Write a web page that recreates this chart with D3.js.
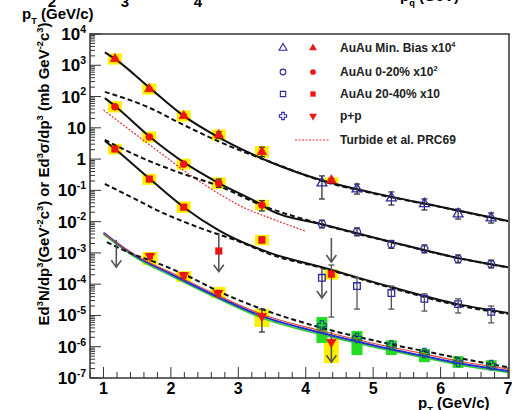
<!DOCTYPE html>
<html>
<head>
<meta charset="utf-8">
<script src="https://cdn.jsdelivr.net/npm/d3@7"></script>
<style>
    body { margin: 0; background: #fff; }
    svg { display: block; font-family: "Liberation Sans", Arial, sans-serif; font-weight: bold; }
</style>
</head>
<body>
<div id="chart"></div>
<script>
// axis ticks
const X_TICKS = [1, 2, 3, 4, 5, 6, 7];
const Y_TICKS = [1e4, 1e3, 1e2, 10, 1, 1e-1, 1e-2, 1e-3, 1e-4, 1e-5, 1e-6, 1e-7];
const Y_TICK_BASE = ["10", "10", "10", "10", "1", "10", "10", "10", "10", "10", "10", "10"];
const Y_TICK_EXP = ["4", "3", "2", "", "", "-1", "-2", "-3", "-4", "-5", "-6", "-7"];

// PHENIX-like data points (red = virtual photon, blue = real photon)
const mbRedX = [1.17, 1.68, 2.19, 2.71, 3.35, 4.38];
const mbRedY = [1.6e3, 174, 24, 5.9, 1.7, 0.21];
const mbRedErr = [[1.45e3, 1.75e3], [162, 188], [21.5, 27], [4.6, 7.4], [1.2, 2.4], [0.18, 0.24]];
const mbRedSys = [[1.05e3, 2.4e3], [115, 260], [16, 36], [3.9, 8.8], [1.1, 2.6], [0.17, 0.26]];

const c020RedX = [1.17, 1.68, 2.19, 2.71, 3.35];
const c020RedY = [47, 5.1, 0.69, 0.17, 0.034];
const c020RedErr = [[42, 53], [4.6, 5.7], [0.6, 0.8], [0.125, 0.23], [0.022, 0.047]];
const c020RedSys = [[31, 71], [3.4, 7.7], [0.46, 1.03], [0.11, 0.26], [0.023, 0.05]];

const c2040RedX = [1.17, 1.68, 2.19, 3.35, 4.38];
const c2040RedY = [2.1, 0.23, 0.029, 2.6e-3, 2.1e-4];
const c2040RedErr = [[1.9, 2.3], [0.21, 0.26], [0.025, 0.034], [2.1e-3, 3.2e-3], [8.9e-6, 4.1e-4]];
const c2040RedSys = [[1.4, 3.1], [0.15, 0.34], [0.019, 0.044], [1.75e-3, 3.8e-3], [1.4e-4, 3.0e-4]];
const c2040LimitX = [2.71];
const c2040LimitY = [1.15e-3];

const ppRedX = [1.69, 2.19, 2.7, 3.35, 4.38];
const ppRedY = [7.9e-4, 1.9e-4, 5.2e-5, 9.5e-6, 1.4e-6];
const ppRedErr = [[6.6e-4, 9.5e-4], [1.6e-4, 2.3e-4], [4.3e-5, 6.2e-5], [2.95e-6, 1.6e-5], null];
const ppRedSys = [[4.1e-4, 1.07e-3], [1.17e-4, 2.6e-4], [3.6e-5, 8.1e-5], [4.3e-6, 1.6e-5], [3.0e-7, 1.8e-6]];

const blueX = [4.24, 4.76, 5.27, 5.76, 6.26, 6.75];
const mbBlueY = [0.172, 0.110, 0.057, 0.037, 0.0175, 0.0131];
const mbBlueErr = [[0.053, 0.29], [0.076, 0.159], [0.034, 0.089], [0.0236, 0.053], [0.0121, 0.0253], [0.009, 0.0189]];
const c020BlueY = [8.4e-3, 4.7e-3, 1.9e-3, 1.33e-3, 6.4e-4, 4.4e-4];
const c020BlueErr = [[6.3e-3, 1.12e-2], [3.5e-3, 6.3e-3], [1.4e-3, 2.5e-3], [1.0e-3, 1.8e-3], [4.8e-4, 8.6e-4], [3.3e-4, 5.9e-4]];
const c2040BlueY = [1.6e-4, 8.7e-5, 5.2e-5, 3.4e-5, 2.3e-5, 1.3e-5];
const c2040BlueErr = [null, [1.6e-5, 1.6e-4], [1.6e-5, 8.7e-5], [1.38e-5, 4.9e-5], [1.2e-5, 3.4e-5], [5.8e-6, 2.0e-5]];
const ppBlueY = [4.9e-6, 1.9e-6, 1.12e-6, 6.3e-7, 3.2e-7, 2.6e-7];
const ppBlueSys = [[1.32e-6, 8.9e-6], [5.4e-7, 3.2e-6], [5.4e-7, 1.6e-6], [3.2e-7, 8.5e-7], [2.1e-7, 5.0e-7], [1.95e-7, 3.7e-7]];

// upper limit arrows: [pT, top, bottom]
const limitArrows = [
    [1.19, 2.6e-3, 3.5e-4],
    [2.71, 4.4e-3, 2.5e-4],
    [4.24, 3.3e-4, 3.6e-5],
    [4.38, 3.0e-3, 5.1e-4],
    [4.38, 2.95e-6, 3.2e-7]
];

// fit and theory curves [pT, value]
const fitMB = [[1.02, 2.6e3], [1.17, 1.6e3], [1.69, 186], [2.19, 24], [2.67, 5.5], [3.47, 0.81], [4.24, 0.21], [5.0, 0.083], [6.01, 0.0295], [7.0, 0.0105]];
const pqcdMB = [[1.02, 141], [1.65, 47], [2.19, 12.3], [2.73, 3.5], [3.62, 0.62], [4.24, 0.2], [5.0, 0.08], [6.01, 0.029], [7.0, 0.0102]];
const fit020 = [[1.02, 89], [1.17, 50], [1.69, 5.1], [2.21, 0.74], [2.71, 0.17], [3.35, 0.034], [3.47, 0.0234], [4.24, 8.3e-3], [5.27, 2.24e-3], [6.26, 6.9e-4], [7.0, 3.5e-4]];
const pqcd020 = [[1.02, 4.1], [1.54, 1.17], [2.14, 0.36], [2.71, 0.138], [3.35, 0.033], [4.24, 8.2e-3], [5.27, 2.2e-3], [6.26, 6.8e-4], [7.0, 3.45e-4]];
const fit2040 = [[1.02, 3.8], [1.17, 2.1], [1.69, 0.23], [2.19, 0.029], [2.73, 5.0e-3], [3.47, 1.0e-3], [4.24, 3.5e-4], [5.27, 8.1e-5], [6.26, 2.3e-5], [7.0, 1.2e-5]];
const pqcd2040 = [[1.02, 0.16], [1.5, 0.049], [1.79, 0.0235], [2.43, 6.3e-3], [3.03, 2.24e-3], [3.47, 9.1e-4], [4.24, 3.3e-4], [5.27, 7.6e-5], [6.26, 2.1e-5], [7.0, 1.12e-5]];
const turbide = [[1.0, 37], [1.69, 2.8], [2.4, 0.21], [3.17, 0.023], [3.47, 0.013], [3.99, 5.0e-3]];
const ppBlueLine = [[1.0, 4.4e-3], [1.5, 7.4e-4], [2.0, 2.1e-4], [2.73, 3.6e-5], [3.35, 9.5e-6], [4.24, 2.75e-6], [5.0, 1.12e-6], [5.76, 5.0e-7], [6.26, 3.0e-7], [7.0, 1.66e-7]];
const ppRedLine = [[1.0, 4.2e-3], [1.5, 7.9e-4], [2.0, 2.35e-4], [2.73, 4.1e-5], [3.35, 1.1e-5], [4.24, 3.2e-6], [5.0, 1.3e-6], [5.76, 5.9e-7], [6.26, 3.5e-7], [7.0, 1.95e-7]];
const ppGreenLine = [[1.0, 3.9e-3], [1.5, 6.6e-4], [2.0, 1.85e-4], [2.73, 3.2e-5], [3.35, 8.3e-6], [4.24, 2.4e-6], [5.0, 9.8e-7], [5.76, 4.4e-7], [6.26, 2.65e-7], [7.0, 1.5e-7]];
const ppDashed = [[1.05, 2.2e-3], [1.39, 1.0e-3], [1.76, 5.1e-4], [2.28, 1.7e-4], [2.73, 5.6e-5], [3.35, 1.6e-5], [4.24, 4.0e-6], [5.0, 1.6e-6], [5.76, 7.2e-7], [7.0, 2.2e-7]];

const LEGEND_LABELS = [
    [["AuAu Min. Bias x10", ""], ["4", "sup"]],
    [["AuAu 0-20% x10", ""], ["2", "sup"]],
    [["AuAu 20-40% x10", ""]],
    [["p+p", ""]],
    [["Turbide et al. PRC69", ""]]
];

const RED = "#ee1515";
const BLUE = "#2b2b9c";
const YELLOW = "#fff000";
const GREEN = "#22dd22";
const GREY = "#555";

const width = 512, height = 410;
const svg = d3.select("#chart").append("svg")
    .attr("width", width)
    .attr("height", height);

const xScale = d3.scaleLinear().domain([0.8, 7]).range([90, 508]);
const yScale = d3.scaleLog().domain([1e-7, 1e4]).range([378, 34]);

function addRich(textSel, parts, fs) {
    let shift = 0;
    parts.forEach(([t, kind]) => {
        const target = kind === "sup" ? -fs * 0.42 : kind === "sub" ? fs * 0.3 : 0;
        textSel.append("tspan")
            .attr("dy", target - shift)
            .style("font-size", (kind ? fs * 0.62 : fs) + "px")
            .text(t);
        shift = target;
    });
}

// leftovers of the panel above (cut off)
[["2", 52], ["3", 125], ["4", 198]].forEach(([t, xp]) => {
    svg.append("text").attr("x", xp).attr("y", 7).attr("text-anchor", "middle")
        .style("font-size", "15px").text(t);
});
addRich(svg.append("text").attr("x", 22).attr("y", 19).style("font-size", "15px"),
    [["p", ""], ["T", "sub"], [" (GeV/c)", ""]], 15);
addRich(svg.append("text").attr("x", 400).attr("y", 1).style("font-size", "15px"),
    [["p", ""], ["q", "sub"], [" (GeV)", ""]], 15);

// systematic boxes
function sysBoxes(xs, sys, color, hw) {
    svg.append("g").selectAll("rect")
        .data(xs.map((d, i) => ({ x: d, s: sys[i] })))
        .enter().append("rect")
        .attr("x", d => xScale(d.x) - hw)
        .attr("width", hw * 2)
        .attr("y", d => yScale(d.s[1]))
        .attr("height", d => yScale(d.s[0]) - yScale(d.s[1]))
        .attr("fill", color);
}

sysBoxes(mbRedX, mbRedSys, YELLOW, 7);
sysBoxes(c020RedX, c020RedSys, YELLOW, 7);
sysBoxes(c2040RedX, c2040RedSys, YELLOW, 7);
sysBoxes(ppRedX, ppRedSys, YELLOW, 7.5);
sysBoxes(blueX, ppBlueSys, GREEN, 5.5);

// curves
const lineGen = d3.line()
    .x(d => xScale(d[0]))
    .y(d => yScale(d[1]))
    .curve(d3.curveMonotoneX);

function curve(data, color, w, dash) {
    svg.append("path")
        .datum(data)
        .attr("fill", "none")
        .attr("stroke", color)
        .attr("stroke-width", w)
        .attr("stroke-dasharray", dash)
        .attr("d", lineGen);
}

curve(turbide, "#e0303a", 1.2, "2,1.5");
curve(ppGreenLine, "#33cc33", 1.5, null);
curve(ppBlueLine, "#1f2fd0", 2, null);
curve(ppRedLine, "#e8402e", 1.1, null);
curve(ppDashed, "#111", 2, "5,3");
curve(pqcdMB, "#111", 2, "5,3");
curve(pqcd020, "#111", 2, "5,3");
curve(pqcd2040, "#111", 2, "5,3");
curve(fitMB, "#111", 2, null);
curve(fit020, "#111", 2, null);
curve(fit2040, "#111", 2, null);

// error bars
function errorBars(xs, errs, color) {
    const g = svg.append("g").attr("stroke", color).attr("stroke-width", 1.3);
    xs.forEach((xv, i) => {
        const e = errs[i];
        if (!e) return;
        const px = xScale(xv);
        g.append("line").attr("x1", px).attr("x2", px).attr("y1", yScale(e[0])).attr("y2", yScale(e[1]));
        g.append("line").attr("x1", px - 3).attr("x2", px + 3).attr("y1", yScale(e[0])).attr("y2", yScale(e[0]));
        g.append("line").attr("x1", px - 3).attr("x2", px + 3).attr("y1", yScale(e[1])).attr("y2", yScale(e[1]));
    });
}

errorBars(mbRedX, mbRedErr, "#333");
errorBars(c020RedX, c020RedErr, "#333");
errorBars(c2040RedX, c2040RedErr, GREY);
errorBars(ppRedX, ppRedErr, "#333");
errorBars(blueX, mbBlueErr, "#333");
errorBars(blueX, c020BlueErr, "#333");
errorBars(blueX, c2040BlueErr, GREY);

// upper limit arrows
const arrowG = svg.append("g").attr("stroke", GREY).attr("stroke-width", 1.6).attr("fill", "none");
limitArrows.forEach(([xv, top, bottom]) => {
    const px = xScale(xv);
    const y1 = yScale(top), y2 = yScale(bottom);
    arrowG.append("line").attr("x1", px).attr("x2", px).attr("y1", y1).attr("y2", y2);
    arrowG.append("path").attr("d", `M${px - 5},${y2 - 7}L${px},${y2}L${px + 5},${y2 - 7}`);
});

// markers
const triUp = d3.symbol().type(d3.symbolTriangle).size(42)();
const circ = d3.symbol().type(d3.symbolCircle).size(40)();
const sq = d3.symbol().type(d3.symbolSquare).size(44)();
const crossOpen = "M-1.6,-4.5L1.6,-4.5L1.6,-1.6L4.5,-1.6L4.5,1.6L1.6,1.6L1.6,4.5L-1.6,4.5L-1.6,1.6L-4.5,1.6L-4.5,-1.6L-1.6,-1.6Z";

function markers(xs, ys, path, filled, color, rot) {
    svg.append("g").selectAll("path")
        .data(xs.map((d, i) => [d, ys[i]]))
        .enter().append("path")
        .attr("d", path)
        .attr("transform", d => `translate(${xScale(d[0])},${yScale(d[1])})` + (rot ? " rotate(180)" : ""))
        .attr("fill", filled ? color : "none")
        .attr("stroke", color)
        .attr("stroke-width", filled ? 0.5 : 1.3);
}

markers(mbRedX, mbRedY, triUp, true, RED, false);
markers(c020RedX, c020RedY, circ, true, RED, false);
markers(c2040RedX, c2040RedY, sq, true, RED, false);
markers(c2040LimitX, c2040LimitY, sq, true, RED, false);
markers(ppRedX, ppRedY, triUp, true, RED, true);
markers(blueX, mbBlueY, triUp, false, BLUE, false);
markers(blueX, c020BlueY, circ, false, BLUE, false);
markers(blueX, c2040BlueY, sq, false, BLUE, false);
markers(blueX, ppBlueY, crossOpen, false, "#1d5a7a", false);

// frame
svg.append("rect")
    .attr("x", 90).attr("y", 34)
    .attr("width", 419).attr("height", 344)
    .attr("fill", "none")
    .attr("stroke", "#333")
    .attr("stroke-width", 1.5);

// y ticks (major + log minor)
const tickG = svg.append("g").attr("stroke", "#333").attr("stroke-width", 1);
Y_TICKS.forEach(v => {
    tickG.append("line").attr("x1", 90).attr("x2", 101).attr("y1", yScale(v)).attr("y2", yScale(v));
    if (v < 1e4) {
        for (let k = 2; k <= 9; k++) {
            const mv = v * k;
            tickG.append("line").attr("x1", 90).attr("x2", 95).attr("y1", yScale(mv)).attr("y2", yScale(mv));
        }
    }
});

Y_TICKS.forEach((v, i) => {
    const t = svg.append("text")
        .attr("x", 86)
        .attr("y", yScale(v) + 6)
        .attr("text-anchor", "end")
        .style("font-size", "17px");
    const parts = [[Y_TICK_BASE[i], ""]];
    if (Y_TICK_EXP[i]) parts.push([Y_TICK_EXP[i], "sup"]);
    addRich(t, parts, 17);
});

// x ticks
d3.range(0.8, 7.01, 0.2).forEach(v => {
    const major = Math.abs(v - Math.round(v)) < 0.01;
    tickG.append("line")
        .attr("x1", xScale(v)).attr("x2", xScale(v))
        .attr("y1", 378).attr("y2", 378 - (major ? 11 : 6));
});

svg.append("g").selectAll("text")
    .data(X_TICKS)
    .enter().append("text")
    .attr("x", d => xScale(d))
    .attr("y", 394)
    .attr("text-anchor", "middle")
    .style("font-size", "16px")
    .text(d => d);

// axis titles
addRich(svg.append("text").attr("x", 418).attr("y", 408).style("font-size", "15px"),
    [["p", ""], ["T", "sub"], [" (GeV/c)", ""]], 15);

const yTitle = svg.append("text")
    .attr("transform", "translate(49,174) rotate(-90)")
    .attr("text-anchor", "middle")
    .style("font-size", "15px");
addRich(yTitle, [
    ["Ed", ""], ["3", "sup"], ["N/dp", ""], ["3", "sup"], ["(GeV", ""], ["-2", "sup"], ["c", ""], ["3", "sup"],
    [") or Ed", ""], ["3", "sup"], ["\u03c3/dp", ""], ["3", "sup"], [" (mb GeV", ""], ["-2", "sup"], ["c", ""], ["3", "sup"], [")", ""]
], 15);

// legend
const legendY = [48, 72, 94, 116, 140];
const legendOpen = [triUp, circ, sq, crossOpen];
const legendFilled = [triUp, circ, sq, triUp];
legendY.forEach((ly, i) => {
    if (i < 4) {
        svg.append("path").attr("d", legendOpen[i])
            .attr("transform", `translate(283,${ly}) scale(0.8)`)
            .attr("fill", "none").attr("stroke", BLUE).attr("stroke-width", 1.4);
        svg.append("path").attr("d", legendFilled[i])
            .attr("transform", `translate(313,${ly}) scale(0.8)` + (i === 3 ? " rotate(180)" : ""))
            .attr("fill", RED);
    } else {
        svg.append("line").attr("x1", 295).attr("x2", 330).attr("y1", ly).attr("y2", ly)
            .attr("stroke", "#e0303a").attr("stroke-width", 1.2).attr("stroke-dasharray", "2,1.5");
    }
    addRich(svg.append("text").attr("x", 340).attr("y", ly + 4).style("font-size", "12px").attr("fill", "#222"),
        LEGEND_LABELS[i], 12);
});
</script>
</body>
</html>
